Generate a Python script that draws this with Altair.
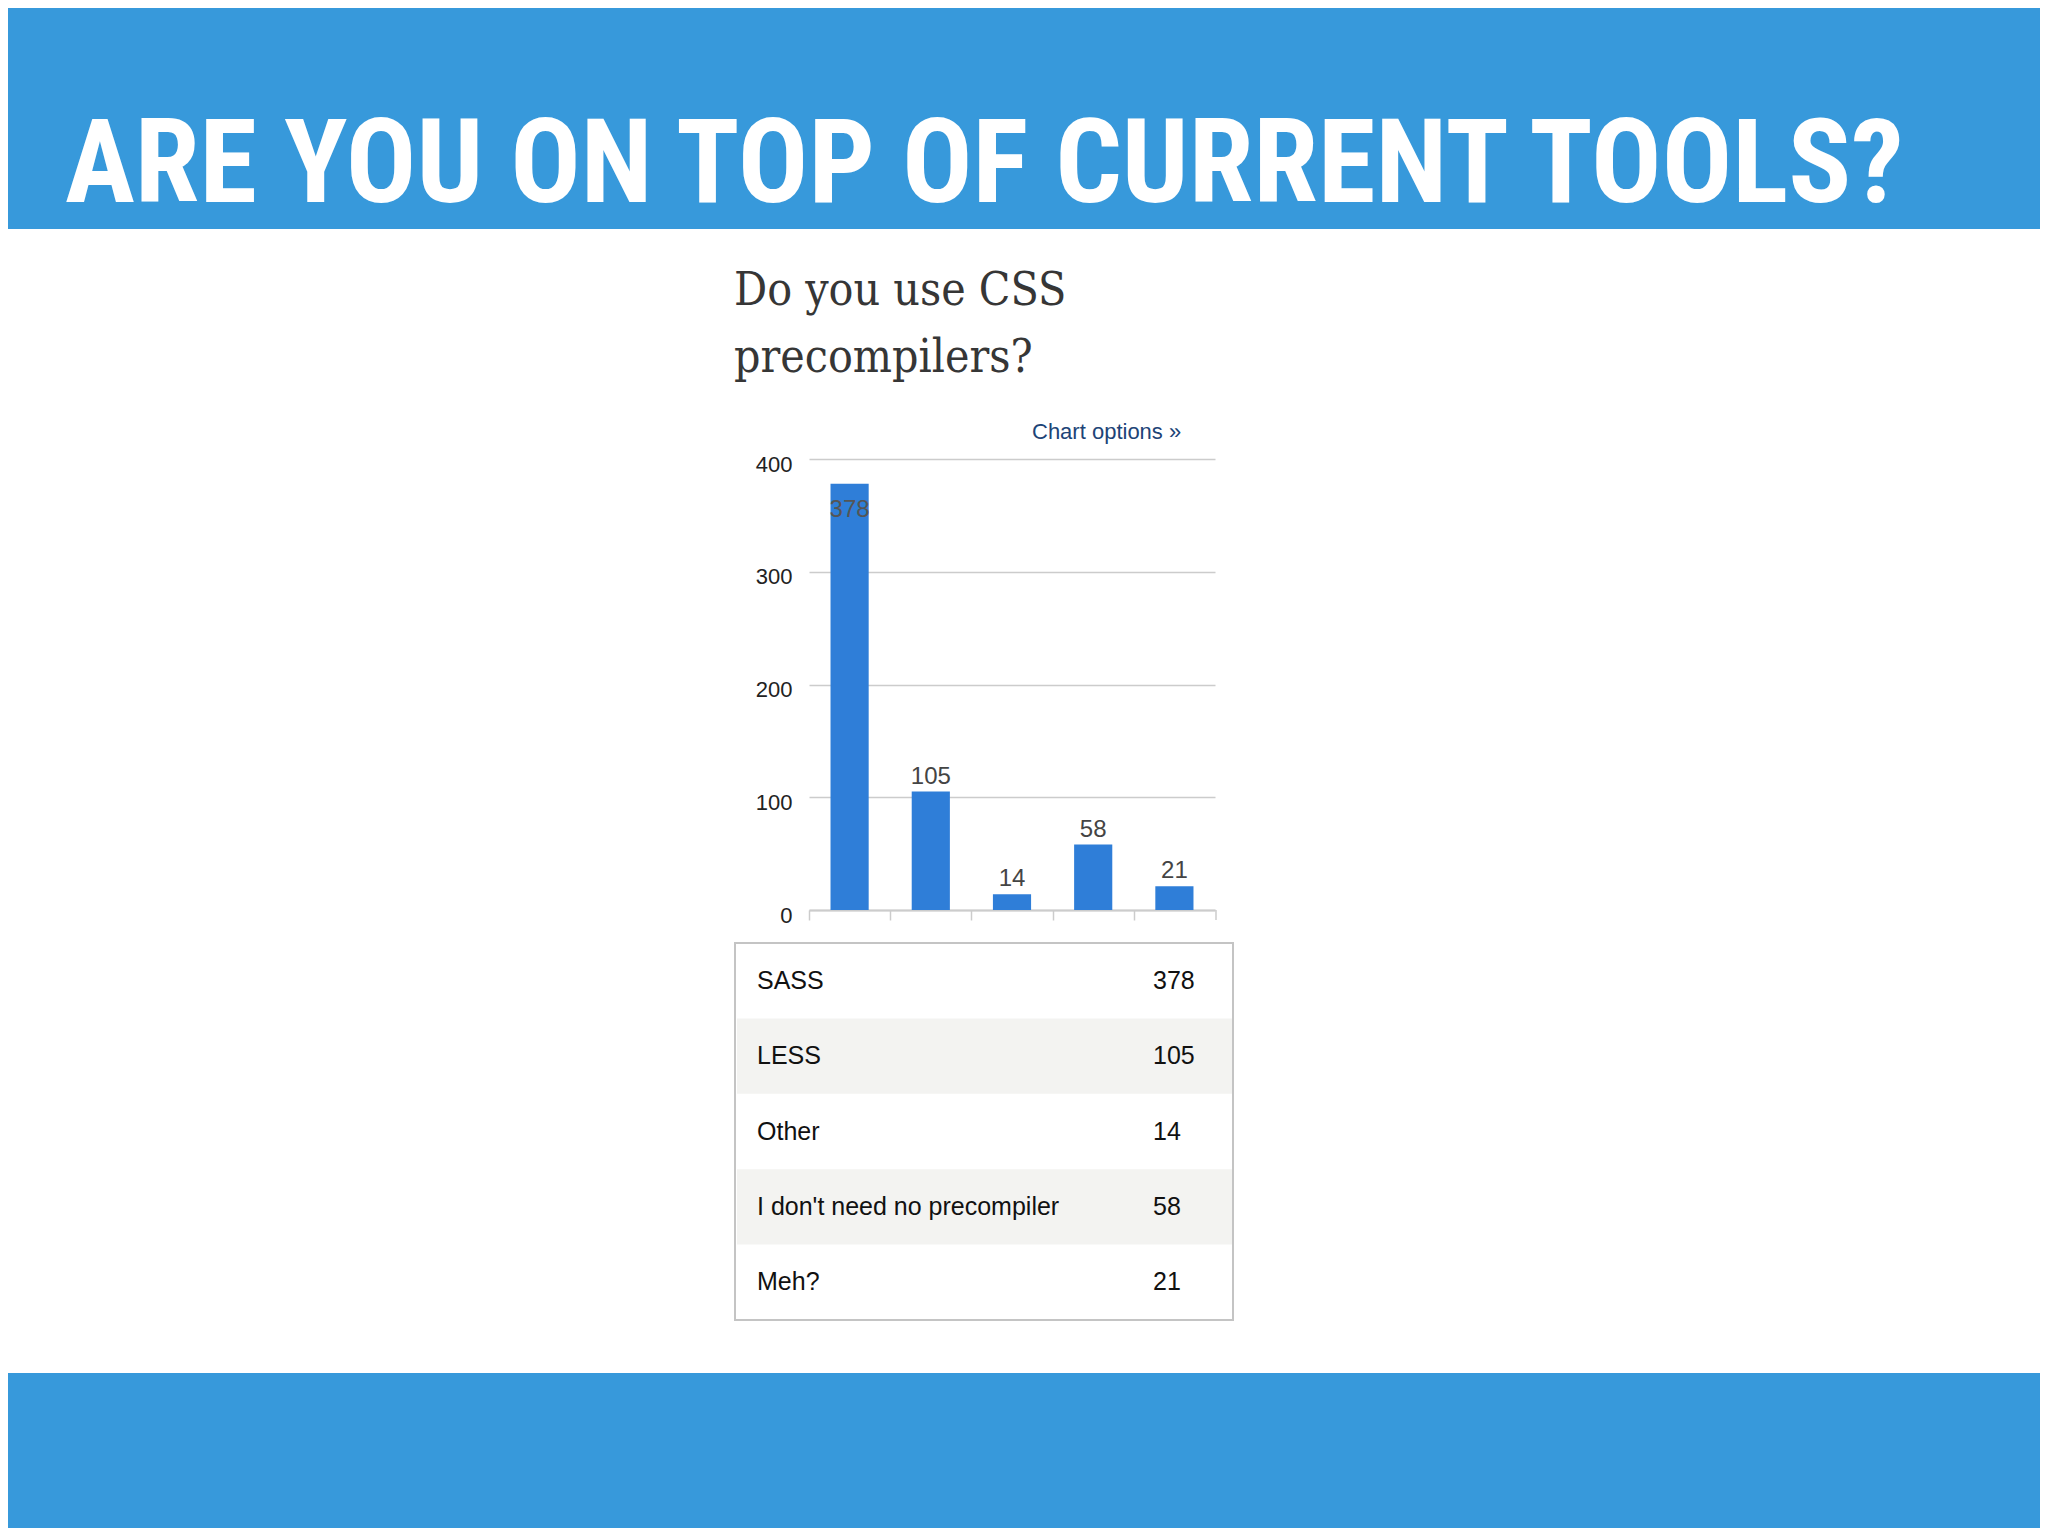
import altair as alt
import pandas as pd

# ---- data ----
categories = ["SASS", "LESS", "Other", "I don't need no precompiler", "Meh?"]
counts = [378, 105, 14, 58, 21]
y_ticks = [0, 100, 200, 300, 400]
slide_title = "ARE YOU ON TOP OF CURRENT TOOLS?"
chart_title_lines = ["Do you use CSS", "precompilers?"]
options_link = "Chart options \u00bb"

df = pd.DataFrame({"label": categories, "value": counts, "idx": list(range(len(categories)))})
one = pd.DataFrame({"k": [0]})

BLUE_BAND = "#3799db"
BAR = "#2f7ed8"
SANS = "Liberation Sans, Arial, Helvetica, sans-serif"

# plot area 406x451 placed at page (809, 459); svg starts at page (8, 8)
W, H = 406, 451
PAD = {"left": 801, "top": 451, "right": 825, "bottom": 618}

base1 = alt.Chart(one)

top_band = base1.mark_rect(color=BLUE_BAND).encode(
    x=alt.value(-801), x2=alt.value(1231), y=alt.value(-451), y2=alt.value(-230))
bottom_band = base1.mark_rect(color=BLUE_BAND).encode(
    x=alt.value(-801), x2=alt.value(1231), y=alt.value(914), y2=alt.value(1069))

big_title = base1.mark_text(
    font="Roboto Condensed, Roboto, sans-serif",
    fontWeight="bold", fontSize=117, color="white", align="left", baseline="alphabetic"
).encode(x=alt.value(-744), y=alt.value(-257), text=alt.value(slide_title))

title_font = "DejaVu Serif Condensed, DejaVu Serif, serif"
ct1 = base1.mark_text(font=title_font, fontSize=46, color="#363636",
                      align="left", baseline="alphabetic").encode(
    x=alt.value(-75), y=alt.value(-154), text=alt.value(chart_title_lines[0]))
ct2 = base1.mark_text(font=title_font, fontSize=46, color="#363636",
                      align="left", baseline="alphabetic").encode(
    x=alt.value(-75), y=alt.value(-87), text=alt.value(chart_title_lines[1]))

opts = base1.mark_text(font=SANS, fontSize=22, color="#1d4477", align="left",
                       baseline="alphabetic").encode(
    x=alt.value(223), y=alt.value(-20), text=alt.value(options_link))

xscale = alt.Scale(domain=categories, paddingInner=0.53, paddingOuter=0.265)
yscale = alt.Scale(domain=[0, 400])

base = alt.Chart(df)
bars = base.mark_bar(color=BAR).encode(
    x=alt.X("label:N", scale=xscale, sort=categories,
            axis=alt.Axis(title=None, labels=False, domainColor="#cccccc", domainWidth=2,
                          tickColor="#cccccc", tickWidth=1.5, tickSize=10,
                          bandPosition=0.5, tickOffset=-40.6)),
    y=alt.Y("value:Q", scale=yscale,
            axis=alt.Axis(title=None, values=y_ticks, domain=False, ticks=False,
                          labelFont=SANS, labelFontSize=22, labelColor="#222222",
                          labelPadding=17, labelOffset=5,
                          gridColor="#cccccc", gridWidth=1.5)),
)
lbl_out = base.transform_filter("datum.value < 300").mark_text(
    font=SANS, fontSize=24, color="#444444", baseline="alphabetic", dy=-8
).encode(x=alt.X("label:N", scale=xscale, sort=categories),
         y=alt.Y("value:Q", scale=yscale), text="value:Q")
lbl_in = base.transform_filter("datum.value >= 300").mark_text(
    font=SANS, fontSize=24, color="#555555", baseline="alphabetic", dy=33
).encode(x=alt.X("label:N", scale=xscale, sort=categories),
         y=alt.Y("value:Q", scale=yscale), text="value:Q")
end_tick = base1.mark_rule(color="#cccccc", strokeWidth=1.5).encode(
    x=alt.value(407), y=alt.value(451), y2=alt.value(461))

chart_part = alt.layer(bars, lbl_out, lbl_in)

# ---- table ----
tscale = alt.Scale(domain=categories, range=[484, 861], paddingInner=0, paddingOuter=0)
shade = base.transform_filter("datum.idx % 2 == 1").mark_rect(color="#f3f3f1").encode(
    y=alt.Y("label:N", scale=tscale, sort=categories, axis=None),
    x=alt.value(-72), x2=alt.value(423))
t_lab = base.mark_text(font=SANS, fontSize=25, color="#111111", align="left",
                       baseline="middle").encode(
    y=alt.Y("label:N", scale=tscale, sort=categories, axis=None),
    x=alt.value(-52), text="label:N")
t_val = base.mark_text(font=SANS, fontSize=25, color="#111111", align="left",
                       baseline="middle").encode(
    y=alt.Y("label:N", scale=tscale, sort=categories, axis=None),
    x=alt.value(344), text="value:Q")
table_part = alt.layer(shade, t_lab, t_val)

border = base1.mark_rect(fill=None, stroke="#c4c4c4", strokeWidth=2).encode(
    x=alt.value(-74), x2=alt.value(424), y=alt.value(484), y2=alt.value(861))

chart = alt.layer(
    top_band, bottom_band, big_title, ct1, ct2, opts,
    chart_part, end_tick, table_part, border
).resolve_scale(y="independent").properties(
    width=W, height=H, padding=PAD,
    autosize=alt.AutoSizeParams(type="none"),
    background="white",
).configure_view(stroke=None)

chart.save("out.html", embed_options={"renderer": "svg", "actions": False})
